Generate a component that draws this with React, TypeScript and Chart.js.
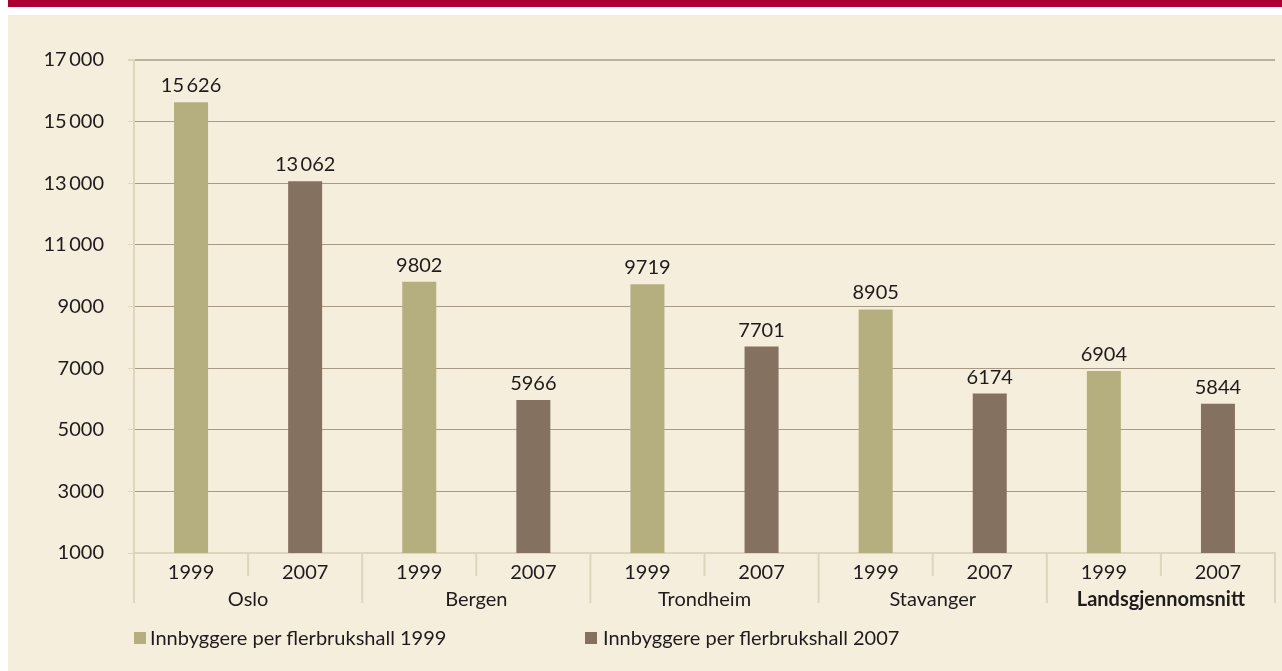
import React, { useEffect, useRef } from "react";
import { Chart, registerables } from "chart.js";

Chart.register(...registerables);

const groups = ["Oslo", "Bergen", "Trondheim", "Stavanger", "Landsgjennomsnitt"];
const years = ["1999", "2007"];
const values1999 = [15626, 9802, 9719, 8905, 6904];
const values2007 = [13062, 5966, 7701, 6174, 5844];
const seriesNames = ["Innbyggere per flerbrukshall 1999", "Innbyggere per flerbrukshall 2007"];
const yMin = 1000;
const yMax = 17000;
const yStep = 2000;

const FONT = "Lato, 'Open Sans', sans-serif";
const TEXT = "#1f1b1c";
const COL_1999 = "#b5ae7f";
const COL_2007 = "#85715f";
const SEP = "#ddd5bd";

const fmt = (v: number) => {
  const s = String(Math.round(v));
  if (s.length <= 4) return s;
  return s.slice(0, s.length - 3) + "\u2009" + s.slice(s.length - 3);
};

export default function App() {
  const ref = useRef<HTMLCanvasElement | null>(null);

  useEffect(() => {
    if (!ref.current) return;
    const labels: string[] = [];
    const d1999: (number | null)[] = [];
    const d2007: (number | null)[] = [];
    groups.forEach((_, i) => {
      labels.push(years[0]);
      d1999.push(values1999[i]);
      d2007.push(null);
      labels.push(years[1]);
      d1999.push(null);
      d2007.push(values2007[i]);
    });

    const extras = {
      id: "extras",
      afterDatasetsDraw(chart: any) {
        const ctx = chart.ctx;
        ctx.save();
        ctx.font = `20px ${FONT}`;
        ctx.fillStyle = TEXT;
        ctx.textAlign = "center";
        ctx.textBaseline = "alphabetic";
        chart.data.datasets.forEach((ds: any, di: number) => {
          const meta = chart.getDatasetMeta(di);
          meta.data.forEach((el: any, i: number) => {
            const v = ds.data[i];
            if (v == null) return;
            ctx.fillText(fmt(v), el.x, el.y - 10);
          });
        });
        ctx.restore();
      },
      afterDraw(chart: any) {
        const ctx = chart.ctx;
        const xs = chart.scales.x;
        const area = chart.chartArea;
        const n = labels.length;
        const w = (area.right - area.left) / n;
        ctx.save();
        ctx.strokeStyle = SEP;
        ctx.lineWidth = 2;
        for (let i = 0; i <= n; i++) {
          const x = i === n ? xs.getPixelForValue(n - 1) + w / 2 : xs.getPixelForValue(i) - w / 2;
          const len = i % 2 === 0 ? 50 : 23;
          ctx.beginPath();
          ctx.moveTo(x, area.bottom);
          ctx.lineTo(x, area.bottom + len);
          ctx.stroke();
        }
        ctx.fillStyle = TEXT;
        ctx.textAlign = "center";
        ctx.textBaseline = "middle";
        groups.forEach((g, gi) => {
          const cx = (xs.getPixelForValue(gi * 2) + xs.getPixelForValue(gi * 2 + 1)) / 2;
          ctx.font = gi === groups.length - 1 ? `bold 20px ${FONT}` : `20px ${FONT}`;
          ctx.fillText(g, cx, area.bottom + 47);
        });
        ctx.restore();
      },
    };

    const chart = new Chart(ref.current, {
      type: "bar",
      data: {
        labels,
        datasets: [
          {
            label: seriesNames[0],
            data: d1999,
            backgroundColor: COL_1999,
            grouped: false,
            barPercentage: 0.298,
            categoryPercentage: 1,
          },
          {
            label: seriesNames[1],
            data: d2007,
            backgroundColor: COL_2007,
            grouped: false,
            barPercentage: 0.298,
            categoryPercentage: 1,
          },
        ],
      },
      options: {
        animation: false,
        responsive: false,
        maintainAspectRatio: false,
        layout: { padding: { left: 20, right: 7, top: 45, bottom: 0 } },
        plugins: {
          legend: { display: false },
          tooltip: { enabled: false },
        },
        scales: {
          x: {
            grid: { display: false },
            border: { display: true, color: SEP, width: 2 },
            ticks: {
              color: TEXT,
              font: { family: FONT, size: 20 },
              padding: 0,
              maxRotation: 0,
              autoSkip: false,
            },
            afterFit(scale: any) {
              scale.height = 118;
            },
          },
          y: {
            min: yMin,
            max: yMax,
            ticks: {
              stepSize: yStep,
              color: TEXT,
              font: { family: FONT, size: 20 },
              padding: 24,
              callback: (v: any) => fmt(Number(v)),
            },
            grid: {
              color: (c: any) => (c.tick && c.tick.value === yMax ? "#bab09c" : "#a89b86"),
              lineWidth: (c: any) => (c.tick && c.tick.value === yMax ? 2 : 1),
              tickColor: SEP,
              tickLength: 6,
            },
            border: { display: true, color: SEP, width: 2 },
            afterFit(scale: any) {
              scale.width = 106;
            },
          },
        },
      },
      plugins: [extras],
    });
    return () => chart.destroy();
  }, []);

  const legendText: React.CSSProperties = {
    position: "absolute",
    top: 607,
    fontFamily: FONT,
    fontSize: 20,
    color: TEXT,
    lineHeight: "30px",
    whiteSpace: "nowrap",
  };
  const marker: React.CSSProperties = {
    position: "absolute",
    top: 617,
    width: 12,
    height: 12,
  };

  return (
    <>
      <div style={{ position: "absolute", left: 8, top: 0, right: 0, height: 7, background: "#ac0033" }} />
      <div style={{ position: "absolute", left: 8, top: 15, right: 0, bottom: 0, background: "#f6eedc" }}>
        <canvas ref={ref} width={1274} height={656} style={{ display: "block", width: 1274, height: 656 }} />
        <div style={{ ...marker, left: 126, background: COL_1999 }} />
        <div style={{ ...legendText, left: 142 }}>{seriesNames[0]}</div>
        <div style={{ ...marker, left: 577, background: COL_2007 }} />
        <div style={{ ...legendText, left: 595 }}>{seriesNames[1]}</div>
      </div>
    </>
  );
}
